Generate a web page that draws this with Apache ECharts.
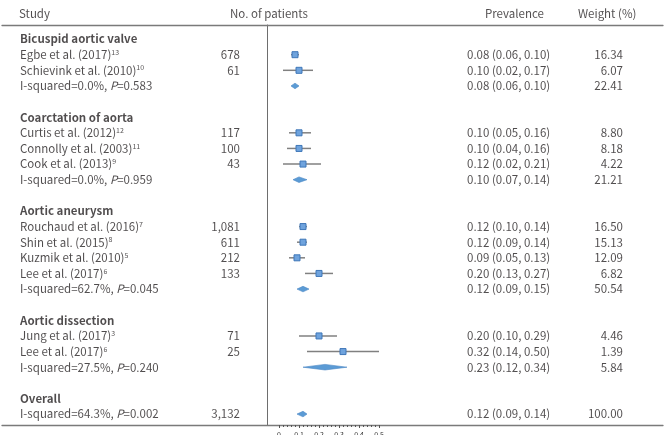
<!DOCTYPE html>
<html><head><meta charset="utf-8">
<script src="https://cdn.jsdelivr.net/npm/echarts@6/dist/echarts.min.js"></script>
<style>html,body{margin:0;padding:0;background:#fff}#c{width:669px;height:435px}</style>
</head><body><div id="c"></div>
<script>
// ---------- data ----------
const headers = ['Study', 'No. of patients', 'Prevalence', 'Weight (%)'];
const groups = ['Bicuspid aortic valve', 'Coarctation of aorta', 'Aortic aneurysm', 'Aortic dissection', 'Overall'];
const groupSizes = [2, 3, 4, 2, 0];
const studies = ['Egbe et al. (2017)', 'Schievink et al. (2010)', 'Curtis et al. (2012)', 'Connolly et al. (2003)', 'Cook et al. (2013)',
  'Rouchaud et al. (2016)', 'Shin et al. (2015)', 'Kuzmik et al. (2010)', 'Lee et al. (2017)', 'Jung et al. (2017)', 'Lee et al. (2017)'];
const refs = ['13', '10', '12', '11', '9', '7', '8', '5', '6', '3', '6'];
const patients = ['678', '61', '117', '100', '43', '1,081', '611', '212', '133', '71', '25'];
const est = [0.08, 0.10, 0.10, 0.10, 0.12, 0.12, 0.12, 0.09, 0.20, 0.20, 0.32];
const lower = [0.06, 0.02, 0.05, 0.04, 0.02, 0.10, 0.09, 0.05, 0.13, 0.10, 0.14];
const upper = [0.10, 0.17, 0.16, 0.16, 0.21, 0.14, 0.14, 0.13, 0.27, 0.29, 0.50];
const weights = [16.34, 6.07, 8.80, 8.18, 4.22, 16.50, 15.13, 12.09, 6.82, 4.46, 1.39];
const i2 = ['0.0%', '0.0%', '62.7%', '27.5%', '64.3%'];
const pVals = ['0.583', '0.959', '0.045', '0.240', '0.002'];
const pooledN = ['', '', '', '', '3,132'];
const pooledEst = [0.08, 0.10, 0.12, 0.23, 0.12];
const pooledLow = [0.06, 0.07, 0.09, 0.12, 0.09];
const pooledUp = [0.10, 0.14, 0.15, 0.34, 0.14];
const pooledWeight = [22.41, 21.21, 50.54, 5.84, 100.00];
const xTicks = [0, 0.1, 0.2, 0.3, 0.4, 0.5];

// ---------- layout ----------
const FONT = 'Noto Sans CJK KR';
const FS = 11.5;
const TXT = '#231f20';
const colStudy = 20, colN = 240, colPrev = 467, colW = 623;
const headerX = [19, 230, 485, 578];
const headerRow = -1.65;

// build rows
const studyRows = [], pooledRows = [], groupRows = [];
let r = 0;
groups.forEach((g, gi) => {
  groupRows.push(r); r++;
  for (let k = 0; k < groupSizes[gi]; k++) { studyRows.push(r); r++; }
  pooledRows.push(r); r++;
  r++; // blank
});

const f2 = v => v.toFixed(2);
const textLeft = [], textRight = [];
headers.forEach((h, i) => textLeft.push({ value: [headerX[i], headerRow], label: { formatter: h } }));
groups.forEach((g, i) => textLeft.push({ value: [colStudy, groupRows[i]], label: { formatter: '{b|' + g + '}' } }));
studies.forEach((st, i) => {
  textLeft.push({ value: [colStudy, studyRows[i]], label: { formatter: st + '{s|' + refs[i] + '}' } });
  textRight.push({ value: [colN, studyRows[i]], label: { formatter: patients[i] } });
  textLeft.push({ value: [colPrev, studyRows[i]], label: { formatter: f2(est[i]) + ' (' + f2(lower[i]) + ', ' + f2(upper[i]) + ')' } });
  textRight.push({ value: [colW, studyRows[i]], label: { formatter: f2(weights[i]) } });
});
groups.forEach((g, i) => {
  const row = pooledRows[i];
  textLeft.push({ value: [colStudy, row], label: { formatter: 'I-squared=' + i2[i] + ', {i|P}=' + pVals[i] } });
  if (pooledN[i]) textRight.push({ value: [colN, row], label: { formatter: pooledN[i] } });
  textLeft.push({ value: [colPrev, row], label: { formatter: f2(pooledEst[i]) + ' (' + f2(pooledLow[i]) + ', ' + f2(pooledUp[i]) + ')' } });
  textRight.push({ value: [colW, row], label: { formatter: f2(pooledWeight[i]) } });
});

const rich = {
  b: { fontFamily: FONT, fontSize: FS, fontWeight: 'bold', color: TXT },
  s: { fontFamily: FONT, fontSize: 7, color: TXT, verticalAlign: 'top', padding: [0, 0, 5, 0] },
  i: { fontFamily: FONT, fontSize: FS, fontStyle: 'italic', color: TXT }
};
const baseLabel = { show: true, fontFamily: FONT, fontSize: FS, color: TXT, distance: 0, rich: rich };

const ciData = studies.map((_, i) => [lower[i], upper[i], studyRows[i]]);
const ptData = studies.map((_, i) => [est[i], studyRows[i]]);
const dmData = groups.map((_, i) => [pooledLow[i], pooledUp[i], pooledRows[i], pooledEst[i]]);

const yRange = { min: -0.9, max: 24.7 };
const hidden = { axisLine: { show: false, onZero: false }, axisTick: { show: false }, axisLabel: { show: false }, splitLine: { show: false } };
const chart = echarts.init(document.getElementById('c'));
chart.setOption({
  animation: false,
  grid: [
    { left: 267, top: 25, width: 112, height: 400, outerBoundsMode: 'none', containLabel: false },
    { left: 279, top: 25, width: 100, height: 400, outerBoundsMode: 'none', containLabel: false },
    { left: 2, top: 25, width: 661, height: 400, outerBoundsMode: 'none', containLabel: false }
  ],
  xAxis: [
    Object.assign({ gridIndex: 0, type: 'value', min: -0.06, max: 0.5 }, hidden),
    { gridIndex: 1, type: 'value', min: 0, max: 0.5, interval: 0.1, position: 'bottom',
      axisLine: { show: false, onZero: false }, splitLine: { show: false },
      axisTick: { show: true, length: 3, lineStyle: { color: '#555', width: 1 } },
      minorTick: { show: true, splitNumber: 5, length: 2, lineStyle: { color: '#555', width: 1 } },
      axisLabel: { show: true, fontSize: 7, color: '#333', fontFamily: FONT, margin: 6,
        formatter: v => { const t = xTicks.find(x => Math.abs(x - v) < 1e-9); return t === undefined ? '' : String(t); } } },
    { gridIndex: 2, type: 'value', min: 2, max: 663, position: 'bottom',
      axisLine: { show: true, onZero: false, lineStyle: { color: '#7a7a7a', width: 1.3 } },
      axisTick: { show: false }, axisLabel: { show: false }, splitLine: { show: false } },
    { gridIndex: 2, type: 'value', min: 2, max: 663, position: 'top',
      axisLine: { show: true, onZero: false, lineStyle: { color: '#7a7a7a', width: 1.3 } },
      axisTick: { show: false }, axisLabel: { show: false }, splitLine: { show: false } }
  ],
  yAxis: [
    { gridIndex: 0, type: 'value', inverse: true, min: yRange.min, max: yRange.max, position: 'left',
      axisLine: { show: true, onZero: false, lineStyle: { color: '#6e6e6e', width: 1 } },
      axisTick: { show: false }, axisLabel: { show: false }, splitLine: { show: false } },
    Object.assign({ gridIndex: 1, type: 'value', inverse: true, min: yRange.min, max: yRange.max }, hidden),
    Object.assign({ gridIndex: 2, type: 'value', inverse: true, min: yRange.min, max: yRange.max }, hidden)
  ],
  series: [
    { type: 'custom', xAxisIndex: 0, yAxisIndex: 0, data: ciData, z: 2,
      renderItem: (params, api) => {
        const p1 = api.coord([api.value(0), api.value(2)]);
        const p2 = api.coord([api.value(1), api.value(2)]);
        return { type: 'line', shape: { x1: p1[0], y1: p1[1], x2: p2[0], y2: p2[1] },
          style: { stroke: '#808080', lineWidth: 1.5 } };
      } },
    { type: 'scatter', xAxisIndex: 0, yAxisIndex: 0, data: ptData, z: 3,
      symbol: 'rect', symbolSize: 6,
      itemStyle: { color: '#6fa3dd', borderColor: '#3f77b8', borderWidth: 1, opacity: 1 } },
    { type: 'custom', xAxisIndex: 0, yAxisIndex: 0, data: dmData, z: 3,
      renderItem: (params, api) => {
        const lo = api.coord([api.value(0), api.value(2)]);
        const hi = api.coord([api.value(1), api.value(2)]);
        const c = api.coord([api.value(3), api.value(2)]);
        const h = 2.8;
        return { type: 'polygon', shape: { points: [[lo[0], lo[1]], [c[0], c[1] - h], [hi[0], hi[1]], [c[0], c[1] + h]] },
          style: { fill: '#5b9bd5', stroke: '#4a86c5', lineWidth: 0.6 } };
      } },
    { type: 'scatter', xAxisIndex: 2, yAxisIndex: 2, data: textLeft, clip: false, silent: true,
      symbolSize: 0.01, itemStyle: { color: 'rgba(0,0,0,0)' },
      label: Object.assign({ position: 'right' }, baseLabel) },
    { type: 'scatter', xAxisIndex: 2, yAxisIndex: 2, data: textRight, clip: false, silent: true,
      symbolSize: 0.01, itemStyle: { color: 'rgba(0,0,0,0)' },
      label: Object.assign({ position: 'left' }, baseLabel) }
  ]
});
</script>
</body></html>
